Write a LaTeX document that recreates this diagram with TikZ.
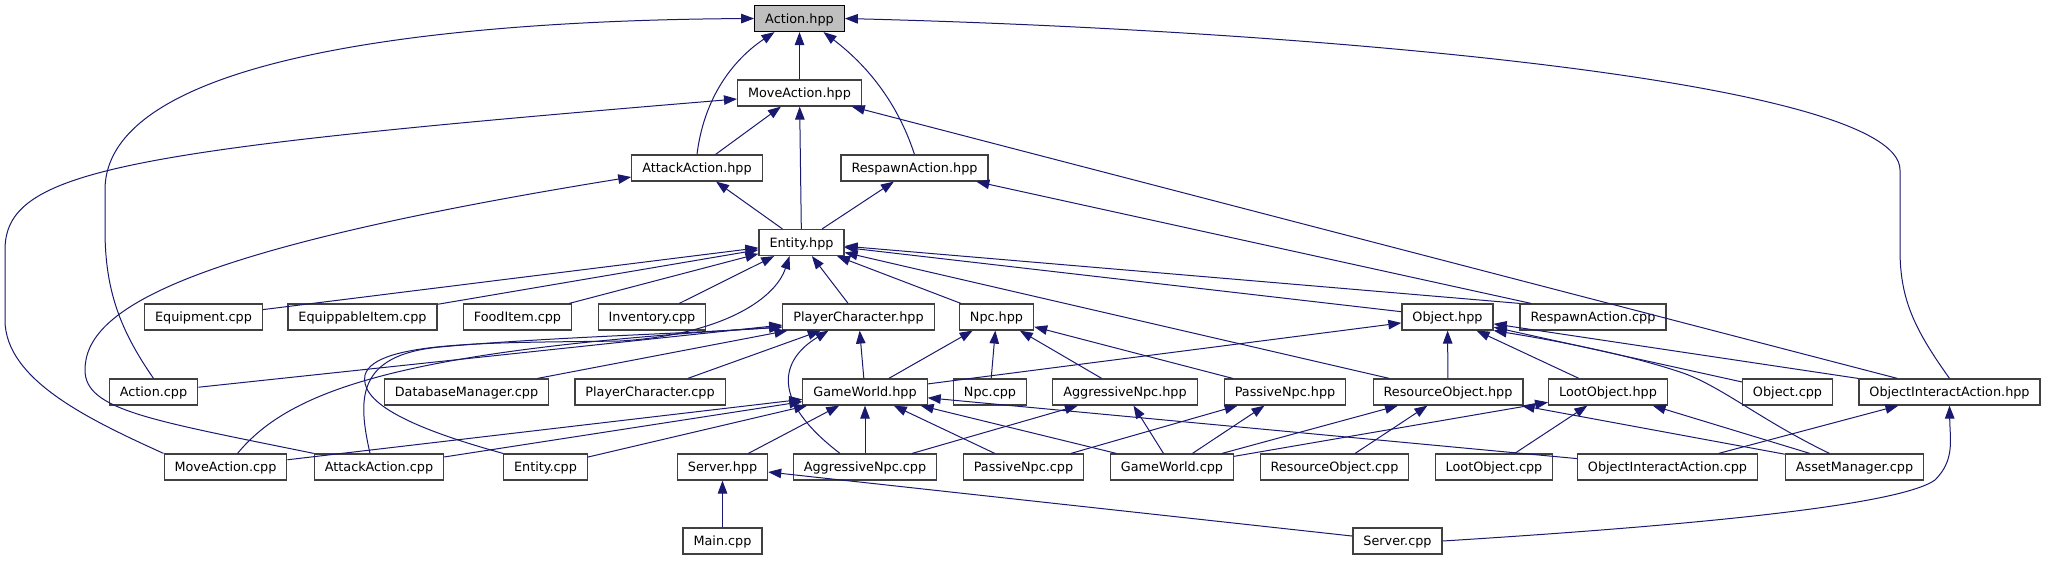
\documentclass[tikz,border=0pt]{standalone}
\usepackage{fontspec}
\setmainfont{DejaVu Sans}
\usepackage{xcolor}
\usepackage{tikz}
\usetikzlibrary{arrows.meta}
\definecolor{edgeblue}{HTML}{191970}
\definecolor{boxline}{HTML}{404040}
\definecolor{rootfill}{HTML}{BFBFBF}
\tikzset{
  filebox/.style={draw=boxline, fill=white, line width=1.2pt, inner xsep=10.5pt, inner ysep=0pt,
    minimum height=26pt, text height=11pt, text depth=2pt, font=\fontsize{12.8}{14}\selectfont, text=black},
  rootbox/.style={filebox, draw=black, fill=rootfill},
  incl/.style={-{Triangle[length=13pt, width=9.5pt]}, draw=edgeblue, line width=1pt}
}

\begin{document}
\begin{tikzpicture}[x=1pt, y=-1pt]
\useasboundingbox (0,0) rectangle (2046,560);
\node[rootbox] (actionh) at (799.5,18.5) {Action.hpp};
\node[filebox] (moveh) at (799.5,93) {MoveAction.hpp};
\node[filebox] (attackh) at (697,168) {AttackAction.hpp};
\node[filebox] (respawnh) at (914.5,168) {RespawnAction.hpp};
\node[filebox] (entityh) at (801.5,242.5) {Entity.hpp};
\node[filebox] (equipc) at (203.5,317) {Equipment.cpp};
\node[filebox] (equipitemc) at (362.5,317) {EquippableItem.cpp};
\node[filebox] (fooditemc) at (517.5,317) {FoodItem.cpp};
\node[filebox] (inventoryc) at (652,317) {Inventory.cpp};
\node[filebox] (playerh) at (858.5,317) {PlayerCharacter.hpp};
\node[filebox] (npch) at (996.5,317) {Npc.hpp};
\node[filebox] (objecth) at (1447.5,317) {Object.hpp};
\node[filebox] (respawnc) at (1593,317) {RespawnAction.cpp};
\node[filebox] (actionc) at (153.5,392) {Action.cpp};
\node[filebox] (dbmanagerc) at (466.5,392) {DatabaseManager.cpp};
\node[filebox] (playerc) at (650,392) {PlayerCharacter.cpp};
\node[filebox] (worldh) at (865,392) {GameWorld.hpp};
\node[filebox] (npcc) at (990,392) {Npc.cpp};
\node[filebox] (aggroh) at (1125,392) {AggressiveNpc.hpp};
\node[filebox] (passiveh) at (1285,392) {PassiveNpc.hpp};
\node[filebox] (resourceh) at (1448,392) {ResourceObject.hpp};
\node[filebox] (looth) at (1608,392) {LootObject.hpp};
\node[filebox] (objectc) at (1787.5,392) {Object.cpp};
\node[filebox] (interacth) at (1949.5,392) {ObjectInteractAction.hpp};
\node[filebox] (movec) at (225.5,467) {MoveAction.cpp};
\node[filebox] (attackc) at (379,467) {AttackAction.cpp};
\node[filebox] (entityc) at (545.5,467) {Entity.cpp};
\node[filebox] (serverh) at (722.5,467) {Server.hpp};
\node[filebox] (aggroc) at (865,467) {AggressiveNpc.cpp};
\node[filebox] (passivec) at (1023.5,467) {PassiveNpc.cpp};
\node[filebox] (worldc) at (1172,467) {GameWorld.cpp};
\node[filebox] (resourcec) at (1334.5,467) {ResourceObject.cpp};
\node[filebox] (lootc) at (1494,467) {LootObject.cpp};
\node[filebox] (interactc) at (1667.5,467) {ObjectInteractAction.cpp};
\node[filebox] (assetc) at (1854.5,467) {AssetManager.cpp};
\node[filebox] (mainc) at (722.5,541) {Main.cpp};
\node[filebox] (serverc) at (1397.5,541) {Server.cpp};
\draw[incl] (actionc.north) .. controls (120,330) and (105,290) .. (105,230) -- (105,190) .. controls (105,45) and (500,20) .. (actionh.west);
\draw[incl] (moveh) -- (actionh);
\draw[incl] (attackh.north) .. controls (705,90) and (740,55) .. ([xshift=-25pt]actionh.south);
\draw[incl] (respawnh.north) .. controls (895,95) and (860,60) .. ([xshift=24pt]actionh.south);
\draw[incl] (interacth.north) .. controls (1915,330) and (1900,300) .. (1900,250) -- (1900,170) .. controls (1900,80) and (1300,30) .. (actionh.east);
\draw[incl] (attackh) -- (moveh); \draw[incl] (entityh) -- (moveh); \draw[incl] (interacth) -- (moveh);
\draw[incl] (movec.north west) .. controls (90,420) and (5,380) .. (5,320) -- (5,250) .. controls (5,170) and (120,150) .. ([yshift=-6pt]moveh.west);
\draw[incl] (entityh) -- (attackh);
\draw[incl] (attackc.north west) .. controls (150,420) and (85,410) .. (85,370) .. controls (85,310) and (180,250) .. ([yshift=-9pt]attackh.west);
\draw[incl] (entityh) -- (respawnh); \draw[incl] (respawnc) -- (respawnh);
\draw[incl] (equipc) -- (entityh); \draw[incl] (equipitemc) -- (entityh); \draw[incl] (fooditemc) -- (entityh);
\draw[incl] (inventoryc) -- (entityh); \draw[incl] (playerh) -- (entityh); \draw[incl] (npch) -- (entityh);
\draw[incl] (objecth) -- (entityh); \draw[incl] (respawnc.north west) -- (entityh); \draw[incl] (resourceh) -- (entityh);
\draw[incl] (entityc.north west) .. controls (400,425) and (360,400) .. (365,375) .. controls (375,340) and (500,343) .. (620,341) .. controls (720,335) and (775,300) .. ([xshift=-12pt]entityh.south);
\draw[incl] (actionc) -- (playerh);
\draw[incl] ([xshift=12pt]movec.north) .. controls (290,390) and (400,350) .. ([yshift=-10pt]playerh.west);
\draw[incl] ([xshift=-9pt]attackc.north) .. controls (358,400) and (355,355) .. (440,347) .. controls (550,337) and (700,333) .. ([yshift=-10pt]playerh.west);
\draw[incl] (dbmanagerc) -- (playerh); \draw[incl] (playerc) -- (playerh); \draw[incl] (worldh) -- (playerh);
\draw[incl] ([xshift=-25pt]aggroc.north) .. controls (770,400) and (780,360) .. ([xshift=-30pt]playerh.south);
\draw[incl] (movec) -- (worldh); \draw[incl] (attackc) -- (worldh); \draw[incl] (entityc) -- (worldh);
\draw[incl] (serverh) -- (worldh); \draw[incl] (aggroc) -- (worldh); \draw[incl] (passivec) -- (worldh);
\draw[incl] (worldc) -- (worldh); \draw[incl] (interactc) -- (worldh);
\draw[incl] (worldh) -- (npch); \draw[incl] (npcc) -- (npch); \draw[incl] (aggroh) -- (npch); \draw[incl] (passiveh) -- (npch);
\draw[incl] (worldh) -- (objecth); \draw[incl] (resourceh) -- (objecth); \draw[incl] (looth) -- (objecth);
\draw[incl] (objectc) -- (objecth); \draw[incl] (interacth) -- (objecth);
\draw[incl] ([xshift=-25pt]assetc.north) .. controls (1760,420) and (1720,385) .. (1680,372) .. controls (1620,352) and (1540,338) .. (objecth.south east);
\draw[incl] (aggroc) -- (aggroh); \draw[incl] (worldc) -- (aggroh);
\draw[incl] (passivec) -- (passiveh); \draw[incl] (worldc) -- (passiveh);
\draw[incl] (worldc) -- (resourceh); \draw[incl] (resourcec) -- (resourceh); \draw[incl] (assetc) -- (resourceh);
\draw[incl] (worldc) -- (looth); \draw[incl] (lootc) -- (looth); \draw[incl] (assetc) -- (looth);
\draw[incl] (interactc) -- (interacth);
\draw[incl] (serverc.east) .. controls (1700,525) and (1900,505) .. (1935,480) .. controls (1955,460) and (1950,440) .. (interacth.south);
\draw[incl] (mainc) -- (serverh); \draw[incl] (serverc) -- (serverh);
\end{tikzpicture}
\end{document}
